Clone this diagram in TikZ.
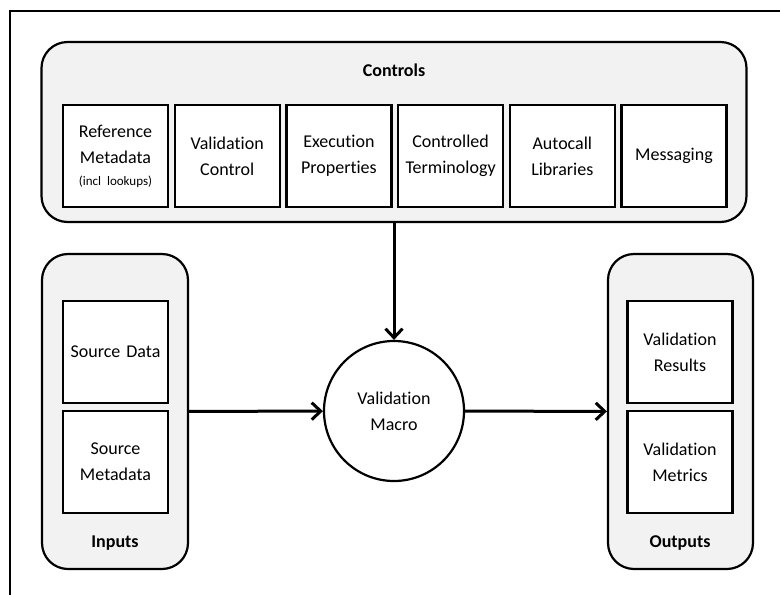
\documentclass[tikz,border=0pt]{standalone}
\usepackage{fontspec}
\setmainfont{Carlito}[Ligatures=NoCommon]
\usetikzlibrary{shapes,arrows.meta}

\begin{document}
\begin{tikzpicture}[node distance = 111.7pt, auto]
        \tikzstyle{group} = [rectangle, draw, line width=2.2pt, fill=black!5, rounded corners=26pt]
        \tikzstyle{block} = [rectangle, draw, line width=2.4pt, fill=white, text width=95pt, inner sep=5pt, text centered, minimum height=102pt, font=\fontsize{18}{26}\selectfont]
        \tikzstyle{process} = [circle, draw, line width=2.2pt, fill=white, minimum size=140pt, text width=100pt, text centered, font=\fontsize{18}{26}\selectfont]
        \tikzstyle{title} = [font=\fontsize{18}{20}\selectfont\bfseries]
        \tikzstyle{line} = [draw, line width=3pt, -{Straight Barb[length=9pt, width=17pt]}]

    \useasboundingbox (0,0) rectangle (780pt,-595pt);
    \draw [line width=2.4pt] (10pt,-595pt) |- (780pt,-11pt);

    \node [group, minimum width=705pt, minimum height=180pt] (controls) at (394pt,-132pt) {};
    \node [title] (controls label) at (394pt,-70pt) {Controls};
    \node [block] (reference metadata) at (115.5pt,-156pt) {Reference\\Metadata\\[-4pt]{\fontsize{13}{16}\selectfont (incl lookups)}};
    \node [block, right of=reference metadata] (validation control) {Validation\\Control};
    \node [block, right of=validation control] (execution properties) {Execution\\Properties};
    \node [block, right of=execution properties] (controlled terminology) {Controlled\\Terminology};
    \node [block, right of=controlled terminology] (autocall libraries) {Autocall\\Libraries};
    \node [block, right of=autocall libraries] (messaging) {Messaging};

    \node [group, minimum width=146pt, minimum height=315pt] (inputs) at (115pt,-411.5pt) {};
    \node [block] (source data) at (115.5pt,-352pt) {Source Data};
    \node [block, below of=source data, node distance=110pt] (source metadata) {Source\\Metadata};
    \node [title] (inputs label) at (115pt,-543pt) {Inputs};

    \node [process] (macro) at (394pt,-411pt) {Validation\\Macro};

    \node [group, minimum width=145pt, minimum height=315pt] (outputs) at (680.5pt,-411.5pt) {};
    \node [block] (validation results) at (680pt,-352pt) {Validation\\Results};
    \node [block, below of=validation results, node distance=110pt] (validation metrics) {Validation\\Metrics};
    \node [title] (outputs label) at (680pt,-543pt) {Outputs};

    \path [line] (controls) -- (macro);
    \path [line] (inputs) -- (macro);
    \path [line] (macro) -- (outputs);
    \end{tikzpicture}
\end{document}
